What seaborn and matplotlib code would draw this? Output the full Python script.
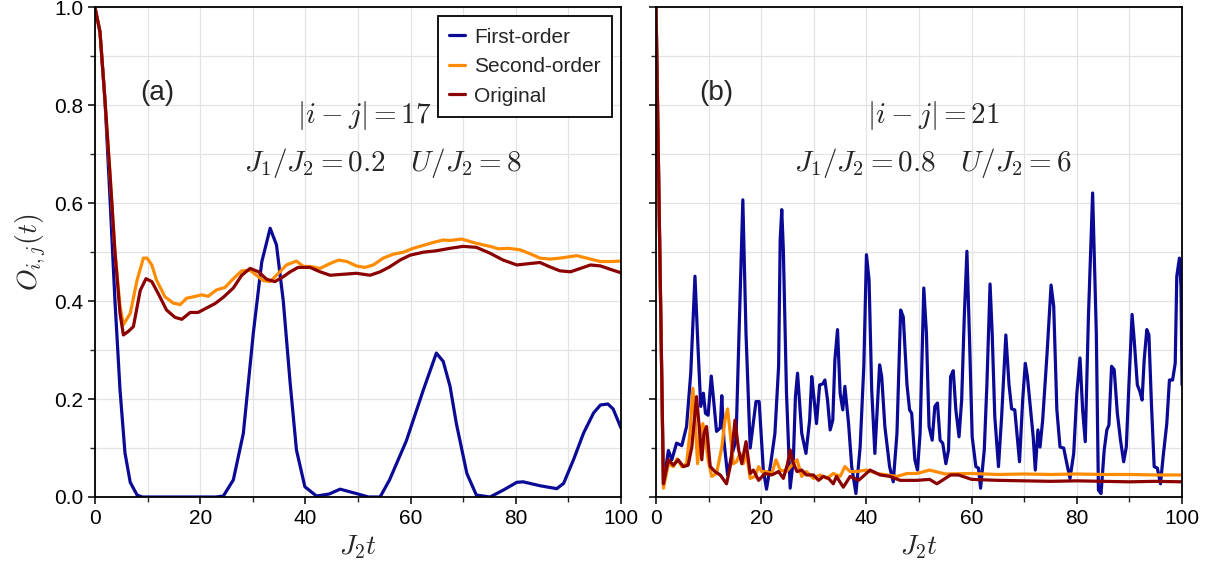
import numpy as np
import pandas as pd
import matplotlib
matplotlib.use('Agg')
import matplotlib.pyplot as plt
import matplotlib.ticker as plticker
import seaborn as sb

# panel (a): |i-j| = 17, J1/J2 = 0.2, U/J2 = 8
t_a_first = [0, 0.95, 1.9, 2.85, 3.8, 4.75, 5.7, 6.7, 8, 9,
             12, 16, 20, 23, 24.4, 26.3, 28.2, 30.1, 31.7, 33.3,
             34.5, 35.8, 37.1, 38.3, 39.9, 42.1, 44.5, 46.6, 49.7, 52,
             54.2, 56, 59.2, 62.4, 64.9, 66.2, 67.5, 68.7, 70.7, 72.5,
             75.1, 77.6, 80.2, 81.4, 84.6, 87.8, 89.1, 91, 92.9, 94.8,
             96.1, 97.5, 98.5, 100]
o_a_first = [1.0, 0.95, 0.81, 0.61, 0.40, 0.22, 0.09, 0.03, 0.004, 0.0,
             0.0, 0.0, 0.0, 0.0, 0.002, 0.035, 0.13, 0.335, 0.48, 0.549,
             0.515, 0.40, 0.233, 0.096, 0.021, 0.002, 0.006, 0.016, 0.007, 0.0,
             0.0, 0.035, 0.115, 0.218, 0.294, 0.277, 0.226, 0.15, 0.048, 0.004,
             0.0, 0.014, 0.03, 0.031, 0.023, 0.017, 0.028, 0.077, 0.131, 0.172,
             0.188, 0.19, 0.18, 0.141]

t_a_second = [0, 0.95, 1.9, 2.85, 3.8, 4.75, 5.4, 6.7, 8.0, 9.2,
              9.9, 10.8, 11.7, 13.3, 14.9, 16.2, 17.4, 18.7, 20.3, 21.5,
              23.1, 24.7, 26.3, 27.9, 29.5, 30.7, 32.0, 33.3, 34.5, 36.4,
              38.3, 39.6, 40.9, 42.8, 44.7, 46.3, 47.9, 49.7, 51.3, 52.9,
              54.8, 56.7, 58.6, 60.5, 62.4, 64.3, 66.2, 67.5, 69.7, 71.9,
              73.8, 75.1, 76.7, 78.6, 80.8, 82.7, 84.6, 86.5, 88.4, 91.6,
              94.2, 96.1, 98, 100]
o_a_second = [1.0, 0.95, 0.81, 0.66, 0.50, 0.39, 0.352, 0.375, 0.443, 0.488,
              0.488, 0.474, 0.443, 0.409, 0.396, 0.393, 0.406, 0.409, 0.413, 0.41,
              0.423, 0.428, 0.446, 0.462, 0.463, 0.453, 0.442, 0.44, 0.453, 0.474,
              0.482, 0.471, 0.471, 0.467, 0.477, 0.484, 0.481, 0.472, 0.469, 0.474,
              0.488, 0.496, 0.5, 0.508, 0.514, 0.52, 0.525, 0.524, 0.527, 0.52,
              0.515, 0.512, 0.507, 0.508, 0.505, 0.497, 0.488, 0.486, 0.488, 0.493,
              0.486, 0.481, 0.481, 0.482]

t_a_orig = [0, 0.95, 1.9, 2.85, 3.8, 4.75, 5.4, 6.3, 7.3, 8.6,
            9.7, 10.8, 12.0, 13.6, 15.2, 16.5, 18.1, 19.6, 21.2, 22.8,
            24.4, 26.3, 27.9, 29.5, 31.1, 32.6, 34.2, 35.8, 37.1, 38.6,
            40.9, 42.8, 44.7, 47.2, 49.7, 52.3, 54.2, 56.0, 58, 59.9,
            62.4, 64.9, 67.5, 70, 72.5, 75.1, 77.6, 80.2, 82.7, 84.6,
            86.5, 88.4, 90.4, 92.3, 94.2, 96.1, 98, 100]
o_a_orig = [1.0, 0.95, 0.81, 0.66, 0.50, 0.376, 0.331, 0.338, 0.348, 0.422,
            0.446, 0.44, 0.416, 0.382, 0.367, 0.363, 0.377, 0.377, 0.386, 0.395,
            0.408, 0.427, 0.453, 0.467, 0.46, 0.445, 0.44, 0.45, 0.46, 0.469,
            0.469, 0.46, 0.453, 0.455, 0.457, 0.453, 0.46, 0.47, 0.484, 0.494,
            0.5, 0.503, 0.508, 0.512, 0.51, 0.498, 0.484, 0.474, 0.477, 0.479,
            0.47, 0.462, 0.46, 0.467, 0.474, 0.472, 0.465, 0.458]

# panel (b): |i-j| = 21, J1/J2 = 0.8, U/J2 = 6
t_b_first = [0, 1.4, 2.35, 3.0, 3.9, 4.9, 5.8, 6.6, 7.4, 8.0,
             8.5, 9.0, 9.4, 9.9, 10.5, 11.0, 11.5, 12.2, 12.5, 12.9,
             13.6, 14.4, 15.2, 15.97, 16.5, 17.1, 17.9, 19.0, 19.6, 20.4,
             21.0, 21.8, 22.6, 23.3, 23.6, 23.9, 24.2, 24.8, 25.5, 26.1,
             26.5, 26.9, 27.7, 28.5, 29.2, 29.6, 30.0, 30.5, 31.1, 31.7,
             32.1, 32.6, 33.1, 33.6, 34.0, 34.5, 35.0, 35.5, 35.9, 36.6,
             37.2, 38.0, 38.8, 39.5, 40.0, 40.5, 41.0, 41.6, 42.5, 42.9,
             43.5, 44.4, 45.1, 45.8, 46.5, 47.0, 47.7, 48.2, 48.6, 49.2,
             49.7, 50.2, 50.9, 51.4, 51.9, 52.5, 53.0, 53.5, 54.0, 54.5,
             55.1, 55.6, 56.0, 56.5, 57.0, 57.6, 58.1, 58.6, 59.1, 59.6,
             60.1, 60.8, 61.3, 61.7, 62.4, 62.9, 63.5, 63.9, 64.4, 65.1,
             65.7, 66.5, 67.1, 67.6, 68.2, 69.1, 69.7, 70.2, 70.6, 71.2,
             71.7, 72.1, 72.6, 73.0, 73.5, 74.3, 75.1, 75.6, 76.2, 76.8,
             77.5, 78.1, 78.7, 79.4, 80.0, 80.6, 81.1, 81.6, 82.2, 83.0,
             83.7, 84.1, 84.6, 85.2, 85.7, 86.1, 86.6, 87.1, 87.7, 88.3,
             88.9, 89.4, 89.9, 90.5, 90.9, 91.5, 92.0, 92.4, 92.8, 93.3,
             93.7, 94.2, 94.7, 95.3, 95.9, 96.4, 97.1, 97.6, 98.2, 98.7,
             99.0, 99.5, 99.8, 100]
o_b_first = [1.0, 0.027, 0.095, 0.076, 0.11, 0.105, 0.144, 0.253, 0.451, 0.3,
             0.185, 0.212, 0.171, 0.167, 0.247, 0.192, 0.134, 0.141, 0.207, 0.116,
             0.045, 0.086, 0.116, 0.403, 0.607, 0.335, 0.1, 0.195, 0.195, 0.055,
             0.016, 0.068, 0.13, 0.267, 0.525, 0.587, 0.505, 0.212, 0.018, 0.076,
             0.205, 0.253, 0.13, 0.089, 0.157, 0.246, 0.205, 0.15, 0.229, 0.231,
             0.239, 0.198, 0.137, 0.157, 0.28, 0.342, 0.212, 0.178, 0.226, 0.15,
             0.062, 0.007, 0.102, 0.267, 0.495, 0.443, 0.219, 0.089, 0.27, 0.246,
             0.144, 0.062, 0.031, 0.13, 0.382, 0.368, 0.23, 0.178, 0.171, 0.076,
             0.055, 0.13, 0.427, 0.335, 0.144, 0.116, 0.185, 0.192, 0.116, 0.11,
             0.068, 0.096, 0.246, 0.258, 0.178, 0.123, 0.198, 0.368, 0.502, 0.321,
             0.123, 0.062, 0.059, 0.018, 0.096, 0.23, 0.435, 0.335, 0.164, 0.062,
             0.164, 0.331, 0.23, 0.18, 0.178, 0.072, 0.198, 0.273, 0.246, 0.178,
             0.123, 0.055, 0.137, 0.102, 0.157, 0.287, 0.433, 0.39, 0.178, 0.102,
             0.1, 0.068, 0.038, 0.089, 0.212, 0.284, 0.178, 0.113, 0.368, 0.621,
             0.335, 0.014, 0.007, 0.096, 0.137, 0.147, 0.267, 0.26, 0.171, 0.116,
             0.072, 0.102, 0.23, 0.373, 0.321, 0.229, 0.215, 0.198, 0.28, 0.342,
             0.331, 0.185, 0.062, 0.059, 0.027, 0.082, 0.15, 0.239, 0.239, 0.273,
             0.451, 0.488, 0.43, 0.229]

t_b_second = [0, 1.4, 2.35, 3.3, 4.0, 4.9, 5.8, 6.5, 7.0, 7.4,
              7.9, 8.4, 8.9, 9.3, 9.9, 10.6, 11.5, 12.5, 13.1, 13.6,
              14.1, 14.7, 15.3, 15.97, 16.6, 17.2, 17.9, 18.8, 19.5, 20.1,
              21.0, 22.0, 22.8, 23.6, 24.8, 25.8, 26.8, 27.7, 28.6, 29.9,
              31.2, 32.5, 33.7, 35.0, 35.9, 36.9, 38.2, 40.0, 42.0, 43.9,
              45.8, 47.7, 49.6, 52, 55, 60, 65, 70, 75, 80,
              85, 90, 95, 100]
o_b_second = [1.0, 0.018, 0.068, 0.062, 0.078, 0.062, 0.068, 0.137, 0.222, 0.164,
              0.068, 0.13, 0.15, 0.123, 0.076, 0.042, 0.048, 0.102, 0.157, 0.18,
              0.13, 0.068, 0.072, 0.089, 0.068, 0.089, 0.038, 0.042, 0.062, 0.052,
              0.052, 0.048, 0.076, 0.055, 0.052, 0.065, 0.076, 0.042, 0.052, 0.038,
              0.045, 0.038, 0.048, 0.042, 0.062, 0.052, 0.052, 0.055, 0.048, 0.045,
              0.042, 0.048, 0.048, 0.055, 0.047, 0.048, 0.046, 0.047, 0.046, 0.047,
              0.046, 0.046, 0.045, 0.045]

t_b_orig = [0, 1.4, 2.35, 3.3, 4.2, 5.2, 6.1, 6.8, 7.7, 8.2,
            8.7, 9.1, 9.6, 10.3, 11.2, 12.2, 13.4, 14.2, 15.0, 15.7,
            16.3, 17.1, 17.9, 18.5, 19.5, 20.7, 22.0, 23.3, 24.2, 25.0,
            25.5, 26.0, 26.8, 27.7, 28.6, 29.9, 30.9, 31.8, 32.8, 33.7,
            34.3, 35.6, 36.9, 38.5, 40.7, 42.6, 44.5, 46.4, 49.6, 52,
            53.4, 56, 57.5, 60, 65, 70, 75, 80, 85, 90,
            95, 100]
o_b_orig = [1.0, 0.027, 0.076, 0.065, 0.076, 0.062, 0.065, 0.102, 0.205, 0.144,
            0.076, 0.13, 0.144, 0.062, 0.052, 0.045, 0.027, 0.068, 0.157, 0.096,
            0.068, 0.113, 0.048, 0.055, 0.034, 0.048, 0.045, 0.052, 0.038, 0.068,
            0.096, 0.072, 0.052, 0.055, 0.045, 0.045, 0.034, 0.042, 0.038, 0.027,
            0.042, 0.02, 0.042, 0.034, 0.055, 0.045, 0.042, 0.034, 0.034, 0.036,
            0.027, 0.045, 0.045, 0.036, 0.034, 0.033, 0.032, 0.033, 0.032, 0.031,
            0.032, 0.031]

series_names = ['First-order', 'Second-order', 'Original']
colors = ['#0a0a96', '#ff8c00', '#8b0000']

sb.set_style('ticks')
plt.rcParams['font.family'] = ['Liberation Sans', 'DejaVu Sans']
plt.rcParams['mathtext.fontset'] = 'cm'

fig = plt.figure(figsize=(12.21, 5.71), dpi=100)
axA = fig.add_axes([0.0778, 0.1296, 0.4308, 0.8573])
axB = fig.add_axes([0.5373, 0.1296, 0.4308, 0.8573])

panels = [
    (axA, [(t_a_first, o_a_first), (t_a_second, o_a_second), (t_a_orig, o_a_orig)]),
    (axB, [(t_b_first, o_b_first), (t_b_second, o_b_second), (t_b_orig, o_b_orig)]),
]

for ax, curves in panels:
    for (tt, oo), name, c in zip(curves, series_names, colors):
        sb.lineplot(x=tt, y=oo, color=c, lw=2.3, label=name,
                    legend=(ax is axA), ax=ax)
    ax.set_xlim(0, 100)
    ax.set_ylim(0, 1.0)
    ax.xaxis.set_major_locator(plticker.MultipleLocator(20))
    ax.xaxis.set_minor_locator(plticker.MultipleLocator(10))
    ax.yaxis.set_major_locator(plticker.MultipleLocator(0.2))
    ax.yaxis.set_minor_locator(plticker.MultipleLocator(0.1))
    ax.yaxis.set_major_formatter(plticker.FormatStrFormatter('%.1f'))
    ax.grid(True, which='both', color='#e3e3e3', lw=0.9)
    ax.set_axisbelow(True)
    ax.tick_params(which='major', direction='out', length=5, width=1.1,
                   labelsize=15, colors='black')
    ax.tick_params(which='minor', direction='out', length=3.5, width=1.0)
    for sp in ax.spines.values():
        sp.set_visible(True)
        sp.set_linewidth(1.3)
        sp.set_color('black')
    ax.set_xlabel(r'$J_2t$', fontsize=20)

axA.set_ylabel(r'$O_{i,j}(t)$', fontsize=20)
axB.set_ylabel('')
axB.tick_params(labelleft=False)

axA.text(11.8, 0.826, '(a)', fontsize=20, ha='center', va='center')
axB.text(11.4, 0.826, '(b)', fontsize=20, ha='center', va='center')
axA.text(51.3, 0.78, r'$|i-j|=17$', fontsize=21, ha='center', va='center')
axA.text(54.8, 0.683, r'$J_1/J_2=0.2\quad U/J_2=8$', fontsize=21,
         ha='center', va='center')
axB.text(52.8, 0.78, r'$|i-j|=21$', fontsize=21, ha='center', va='center')
axB.text(52.6, 0.683, r'$J_1/J_2=0.8\quad U/J_2=6$', fontsize=21,
         ha='center', va='center')

leg = axA.legend(loc='upper right', bbox_to_anchor=(0.983, 0.982),
                 borderaxespad=0, fontsize=15, frameon=True, fancybox=False,
                 handlelength=0.75, handletextpad=0.45, labelspacing=0.5,
                 borderpad=0.55)
leg.get_frame().set_edgecolor('black')
leg.get_frame().set_linewidth(1.3)
leg.get_frame().set_alpha(1)

fig.savefig('out.png', dpi=100)
